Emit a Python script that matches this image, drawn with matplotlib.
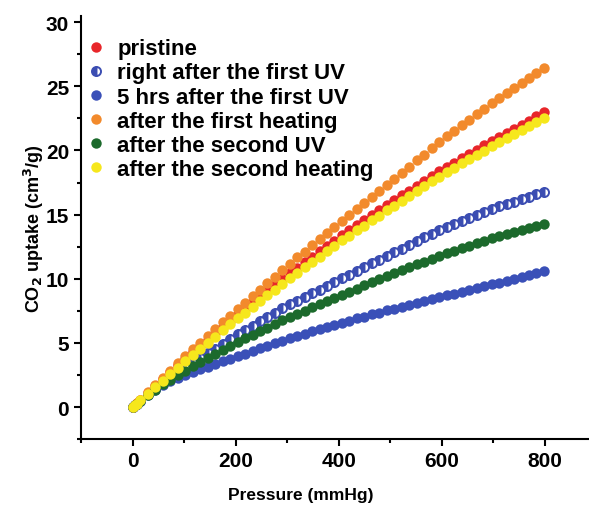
import matplotlib
matplotlib.use("Agg")
import matplotlib.pyplot as plt

plt.rcParams['font.family'] = ['Liberation Sans', 'DejaVu Sans']
plt.rcParams['font.weight'] = 'bold'

# pressure points (mmHg)
pressure = [1, 4, 8, 15, 30, 44, 59, 73, 88, 102, 117, 131, 146, 160, 175, 189,
            204, 218, 233, 247, 262, 276, 291, 305, 320, 334, 349, 363, 378, 392,
            407, 421, 436, 450, 465, 479, 494, 508, 523, 537, 552, 566, 581, 595,
            610, 624, 639, 653, 668, 682, 697, 711, 726, 740, 755, 769, 784, 798]

# CO2 uptake (cm3/g) for each sample state
pristine = [0.04, 0.15, 0.30, 0.56, 1.11, 1.63, 2.18, 2.70, 3.26, 3.77, 4.28, 4.75,
            5.26, 5.74, 6.25, 6.73, 7.23, 7.68, 8.16, 8.61, 9.08, 9.53, 10.01, 10.45,
            10.88, 11.29, 11.72, 12.13, 12.56, 12.97, 13.39, 13.77, 14.17, 14.55,
            14.96, 15.33, 15.74, 16.11, 16.50, 16.86, 17.25, 17.62, 18.01, 18.37,
            18.73, 19.05, 19.40, 19.72, 20.06, 20.39, 20.73, 21.04, 21.37, 21.68,
            22.01, 22.32, 22.65, 22.96]
uv1_now = [0.03, 0.13, 0.26, 0.50, 0.99, 1.44, 1.89, 2.28, 2.68, 3.05, 3.44, 3.80,
           4.19, 4.55, 4.94, 5.31, 5.69, 6.01, 6.36, 6.68, 7.03, 7.35, 7.69, 8.00,
           8.30, 8.58, 8.88, 9.16, 9.46, 9.74, 10.04, 10.32, 10.62, 10.90, 11.20,
           11.48, 11.78, 12.06, 12.36, 12.64, 12.94, 13.22, 13.52, 13.80, 14.06,
           14.28, 14.52, 14.75, 14.99, 15.21, 15.45, 15.64, 15.84, 16.02, 16.22,
           16.40, 16.60, 16.77]
uv1_5h = [0.03, 0.13, 0.25, 0.47, 0.92, 1.33, 1.73, 2.03, 2.30, 2.53, 2.75, 2.95,
          3.16, 3.36, 3.57, 3.75, 3.96, 4.16, 4.37, 4.57, 4.78, 4.97, 5.18, 5.37,
          5.56, 5.73, 5.91, 6.08, 6.26, 6.43, 6.59, 6.74, 6.91, 7.06, 7.22, 7.37,
          7.53, 7.68, 7.83, 7.97, 8.12, 8.26, 8.41, 8.55, 8.70, 8.84, 8.99, 9.13,
          9.28, 9.42, 9.57, 9.71, 9.86, 10.00, 10.15, 10.29, 10.44, 10.58]
heat1 = [0.04, 0.16, 0.31, 0.59, 1.17, 1.72, 2.30, 2.85, 3.43, 3.97, 4.51, 5.02,
         5.56, 6.06, 6.60, 7.10, 7.64, 8.13, 8.66, 9.15, 9.67, 10.16, 10.69, 11.17,
         11.66, 12.12, 12.62, 13.08, 13.57, 14.04, 14.52, 14.97, 15.45, 15.90,
         16.38, 16.83, 17.31, 17.76, 18.26, 18.72, 19.22, 19.68, 20.17, 20.64,
         21.10, 21.52, 21.97, 22.39, 22.84, 23.26, 23.71, 24.10, 24.50, 24.88,
         25.29, 25.66, 26.07, 26.45]
uv2 = [0.03, 0.13, 0.25, 0.47, 0.93, 1.35, 1.78, 2.14, 2.51, 2.84, 3.17, 3.48,
       3.81, 4.12, 4.45, 4.76, 5.08, 5.35, 5.64, 5.91, 6.20, 6.47, 6.76, 7.02,
       7.27, 7.51, 7.77, 8.01, 8.26, 8.50, 8.75, 8.99, 9.24, 9.48, 9.73, 9.97,
       10.22, 10.45, 10.68, 10.89, 11.12, 11.33, 11.56, 11.77, 12.00, 12.19,
       12.38, 12.57, 12.76, 12.95, 13.14, 13.31, 13.48, 13.64, 13.81, 13.98,
       14.15, 14.30]
heat2 = [0.04, 0.14, 0.28, 0.53, 1.05, 1.54, 2.07, 2.56, 3.08, 3.57, 4.07, 4.53,
         5.03, 5.49, 5.98, 6.44, 6.92, 7.36, 7.83, 8.27, 8.73, 9.16, 9.62, 10.05,
         10.48, 10.89, 11.32, 11.73, 12.16, 12.57, 12.99, 13.37, 13.77, 14.15,
         14.56, 14.93, 15.34, 15.71, 16.10, 16.46, 16.85, 17.22, 17.61, 17.97,
         18.33, 18.65, 19.00, 19.32, 19.66, 19.99, 20.33, 20.64, 20.97, 21.28,
         21.61, 21.92, 22.25, 22.56]

labels = ['pristine', 'right after the first UV', '5 hrs after the first UV',
          'after the first heating', 'after the second UV', 'after the second heating']

fig = plt.figure(figsize=(5.89, 5.06), dpi=100)
ax = fig.add_axes([0.1375, 0.130, 0.8625, 0.837])

ms = 7.5
ax.plot(pressure, pristine, 'o', color='#e8262a', ms=ms, mew=0, label=labels[0])
ax.plot(pressure, uv1_now, 'o', color='#3b4db2', ms=ms - 1, mew=1.4,
        fillstyle='left', markerfacecoloralt='white', label=labels[1])
ax.plot(pressure, uv1_5h, 'o', color='#3a50b8', ms=ms, mew=0, label=labels[2])
ax.plot(pressure, heat1, 'o', color='#f28a2c', ms=ms, mew=0, label=labels[3])
ax.plot(pressure, uv2, 'o', color='#1c6a2c', ms=ms, mew=0, label=labels[4])
ax.plot(pressure, heat2, 'o', color='#f6e71c', ms=ms, mew=0, label=labels[5])

ax.set_xlim(-100, 886)
ax.set_ylim(-2.5, 30.5)
ax.set_xticks([0, 200, 400, 600, 800])
ax.set_xticks([-100, 100, 300, 500, 700], minor=True)
ax.set_yticks([0, 5, 10, 15, 20, 25, 30])
ax.set_yticks([-2.5, 2.5, 7.5, 12.5, 17.5, 22.5, 27.5], minor=True)

for s in ['top', 'right']:
    ax.spines[s].set_visible(False)
for s in ['left', 'bottom']:
    ax.spines[s].set_linewidth(1.5)
ax.tick_params(which='major', direction='out', length=5, width=1.5, labelsize=15)
ax.tick_params(which='minor', direction='out', length=3, width=1.5)

ax.set_xlabel('Pressure (mmHg)', fontsize=12.5, fontweight='bold')
ax.xaxis.set_label_coords(0.433, -0.112)
ax.set_ylabel('CO$_\\mathbf{2}$ uptake (cm$^\\mathbf{3}$/g)', fontsize=13,
              fontweight='bold', labelpad=0)

leg = ax.legend(loc='upper left', bbox_to_anchor=(-0.023, 0.978), frameon=False,
                fontsize=16, handletextpad=0.36, labelspacing=0.14, handlelength=1.2,
                borderaxespad=0.2, markerscale=1.0)

fig.savefig('out.png', dpi=100)
